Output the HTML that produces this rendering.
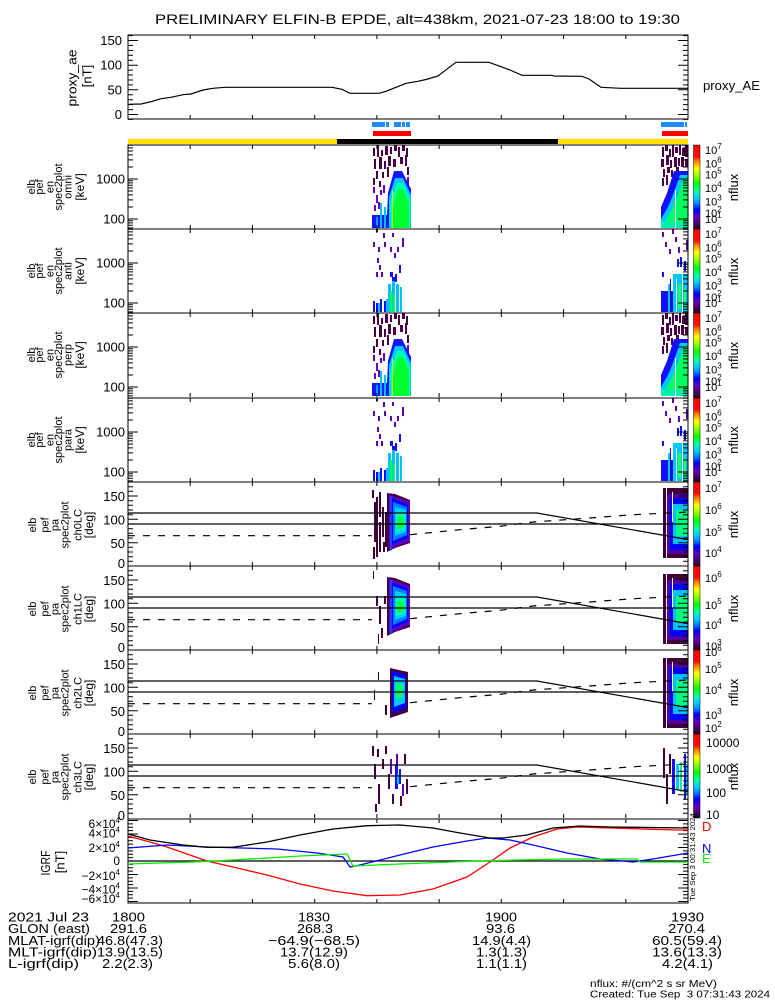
<!DOCTYPE html>
<html><head><meta charset="utf-8"><style>html,body{margin:0;padding:0;background:#fff}svg{display:block}</style></head>
<body>
<svg xmlns="http://www.w3.org/2000/svg" width="775" height="1000" viewBox="0 0 775 1000" font-family="'Liberation Sans', sans-serif">
<defs>
<linearGradient id="cb" x1="0" y1="0" x2="0" y2="1">
<stop offset="0" stop-color="#ff0000"/>
<stop offset="0.14" stop-color="#ff1000"/>
<stop offset="0.2" stop-color="#ff8c00"/>
<stop offset="0.28" stop-color="#ffff00"/>
<stop offset="0.37" stop-color="#90ff00"/>
<stop offset="0.46" stop-color="#00ff00"/>
<stop offset="0.55" stop-color="#00ffa0"/>
<stop offset="0.63" stop-color="#00d0ff"/>
<stop offset="0.7" stop-color="#0080ff"/>
<stop offset="0.77" stop-color="#0000ff"/>
<stop offset="0.86" stop-color="#6000c0"/>
<stop offset="0.93" stop-color="#500070"/>
<stop offset="1" stop-color="#1a0018"/>
</linearGradient>

<!-- energy event 1 dense -->
<g id="eA1">
<g fill="#4a0046">
<rect x="373" y="3" width="2" height="8"/><rect x="377" y="0" width="2" height="12"/><rect x="381" y="5" width="2" height="6"/>
<rect x="385" y="1" width="3" height="9"/><rect x="390" y="2" width="2" height="7"/><rect x="394" y="0" width="3" height="6"/>
<rect x="398" y="2" width="2" height="10"/><rect x="402" y="0" width="3" height="6"/><rect x="406" y="3" width="2" height="9"/>
<rect x="374" y="14" width="2" height="10"/><rect x="379" y="12" width="3" height="12"/><rect x="384" y="16" width="2" height="8"/>
<rect x="388" y="11" width="3" height="10"/><rect x="393" y="14" width="3" height="8"/><rect x="400" y="12" width="3" height="7"/>
<rect x="405" y="10" width="2" height="11"/><rect x="376" y="26" width="2" height="8"/><rect x="382" y="27" width="2" height="6"/>
<rect x="387" y="22" width="2" height="10"/><rect x="407" y="22" width="2" height="8"/><rect x="373" y="33" width="2" height="7"/>
<rect x="379" y="36" width="2" height="6"/>
</g>
<g fill="#6a00b8">
<rect x="373" y="42" width="2" height="6"/><rect x="376" y="50" width="2" height="8"/><rect x="380" y="45" width="2" height="5"/>
<rect x="374" y="60" width="2" height="6"/><rect x="378" y="57" width="2" height="7"/><rect x="383" y="40" width="2" height="8"/>
<rect x="407" y="32" width="2" height="10"/>
</g>
<polygon fill="#1414ff" points="394,26 402,26 411,44 411,83 372,83 372,70 387,70 388,48"/>
<polygon fill="#00c8ff" points="395,33 403,33 411,50 411,83 389,83 389,52"/>
<polygon fill="#00ffb0" points="397,38 403,38 410,54 410,83 391,83 390,58"/>
<polygon fill="#00ff30" points="398,44 403,44 409,58 409,83 393,83 393,62"/>
<rect x="380" y="58" width="2" height="25" fill="#00c0ff"/><rect x="384" y="62" width="2" height="21" fill="#00c0ff"/>
<rect x="376" y="72" width="2" height="11" fill="#00a0ff"/>
<rect x="392" y="45" width="1" height="38" fill="#c0ff00"/>
</g>

<!-- energy event 1 sparse -->
<g id="eB1">
<g fill="#6000b0">
<rect x="376" y="0" width="2" height="3"/><rect x="383" y="4" width="2" height="5"/><rect x="392" y="4" width="2" height="4"/>
<rect x="402" y="9" width="2" height="9"/><rect x="373" y="13" width="2" height="5"/><rect x="378" y="18" width="2" height="5"/>
<rect x="384" y="13" width="2" height="5"/><rect x="390" y="18" width="2" height="5"/><rect x="397" y="18" width="2" height="5"/>
<rect x="394" y="24" width="2" height="5"/><rect x="377" y="29" width="2" height="5"/><rect x="379" y="36" width="2" height="5"/>
<rect x="376" y="43" width="2" height="5"/><rect x="381" y="43" width="2" height="5"/>
</g>
<g fill="#1010ff">
<rect x="399" y="36" width="2" height="8"/><rect x="390" y="43" width="3" height="5"/><rect x="392" y="48" width="3" height="5"/>
<rect x="395" y="45" width="2" height="8"/><rect x="380" y="70" width="2" height="13"/><rect x="373" y="72" width="2" height="11"/>
<rect x="376" y="74" width="2" height="9"/><rect x="384" y="72" width="2" height="11"/>
</g>
<g fill="#00c0ff">
<rect x="388" y="55" width="3" height="28"/><rect x="392" y="52" width="3" height="31"/><rect x="396" y="55" width="3" height="28"/>
<rect x="400" y="58" width="2" height="25"/><rect x="386" y="70" width="2" height="13"/><rect x="378" y="74" width="2" height="9"/>
</g>
<rect x="390" y="62" width="2" height="21" fill="#00ff50"/><rect x="393" y="65" width="2" height="18" fill="#00ff50"/>
</g>

<!-- energy event 2 dense -->
<g id="eA2">
<g fill="#4a0046">
<rect x="662" y="2" width="2" height="10"/><rect x="665" y="0" width="3" height="6"/><rect x="669" y="4" width="2" height="8"/>
<rect x="672" y="0" width="2" height="12"/><rect x="675" y="2" width="3" height="6"/><rect x="679" y="0" width="2" height="10"/>
<rect x="682" y="3" width="3" height="8"/><rect x="685" y="0" width="3" height="12"/>
<rect x="661" y="14" width="3" height="8"/><rect x="666" y="10" width="3" height="10"/><rect x="670" y="15" width="2" height="8"/>
<rect x="674" y="12" width="3" height="10"/><rect x="678" y="13" width="2" height="8"/><rect x="681" y="12" width="3" height="10"/>
<rect x="685" y="14" width="3" height="8"/><rect x="663" y="24" width="2" height="8"/><rect x="667" y="22" width="3" height="6"/>
<rect x="671" y="25" width="2" height="7"/><rect x="676" y="22" width="3" height="6"/>
<rect x="662" y="33" width="2" height="8"/><rect x="666" y="30" width="2" height="10"/>
</g>
<polygon fill="#1010ff" points="674,26 688,26 688,33 672,62 664,78 661,78 661,62 667,48"/>
<polygon fill="#00c8ff" points="680,30 688,30 688,83 661,83 661,74 668,62 673,50"/>
<polygon fill="#00ff60" points="684,33 688,33 688,83 665,83 665,78 672,64 678,50"/>
<rect x="661" y="77" width="27" height="6" fill="#00f0b0"/>
<rect x="675" y="45" width="1" height="38" fill="#fff"/>
</g>

<!-- energy event 2 sparse -->
<g id="eB2">
<g fill="#6000b0">
<rect x="662" y="3" width="2" height="5"/><rect x="672" y="0" width="2" height="5"/><rect x="675" y="8" width="2" height="5"/>
<rect x="665" y="13" width="2" height="5"/><rect x="686" y="11" width="2" height="10"/><rect x="669" y="20" width="2" height="5"/>
<rect x="678" y="18" width="2" height="6"/>
</g>
<g fill="#1010ff">
<rect x="662" y="43" width="2" height="5"/><rect x="677" y="30" width="2" height="8"/><rect x="680" y="28" width="2" height="10"/>
<rect x="684" y="32" width="2" height="10"/><rect x="661" y="62" width="12" height="21"/>
</g>
<rect x="673" y="45" width="15" height="38" fill="#00c8ff"/>
<rect x="668" y="55" width="2" height="28" fill="#00c8ff"/>
<rect x="678" y="55" width="3" height="25" fill="#20ff60"/><rect x="684" y="60" width="2" height="20" fill="#20ff60"/>
<rect x="670" y="50" width="1" height="33" fill="#3000a0"/>
<rect x="676" y="50" width="1" height="33" fill="#fff"/><rect x="682" y="40" width="1" height="43" fill="#fff"/>
</g>

<!-- PA core event 1 -->
<g id="pcore">
<polygon fill="#45004a" points="387,11 395,12 410,18 410,61 395,66 387,70"/>
<polygon fill="#6000c0" points="389,13 410,20 410,59 389,67"/>
<polygon fill="#0000ff" points="391,16 408,22 408,56 391,63"/>
<polygon fill="#0080ff" points="393,20 407,25 407,53 393,59"/>
<polygon fill="#00d0ff" points="395,25 406,28 406,50 395,54"/>
<polygon fill="#00ffb0" points="396,30 405,32 405,47 396,50"/>
<polygon fill="#00ff40" points="397,35 404,36 404,45 397,47"/>
<rect x="390" y="14" width="2" height="54" fill="#2040ff"/>
</g>
<g id="pbars5" fill="#40003a">
<rect x="372" y="8" width="2" height="8"/><rect x="374" y="20" width="2" height="40"/><rect x="376" y="15" width="2" height="60"/>
<rect x="379" y="10" width="2" height="25"/><rect x="379" y="40" width="2" height="30"/><rect x="382" y="25" width="2" height="30"/>
<rect x="385" y="30" width="2" height="35"/><rect x="373" y="65" width="2" height="12"/><rect x="383" y="60" width="2" height="10"/>
</g>
<g id="pbars6" fill="#40003a">
<rect x="373" y="5" width="1" height="8"/><rect x="376" y="30" width="2" height="10"/><rect x="379" y="40" width="2" height="18"/>
<rect x="381" y="62" width="2" height="10"/><rect x="384" y="30" width="2" height="8"/><rect x="378" y="68" width="1" height="10"/>
</g>
<g id="pcore7">
<rect x="378" y="22" width="1" height="8" fill="#40003a"/><rect x="374" y="40" width="1" height="10" fill="#40003a"/><rect x="385" y="55" width="2" height="10" fill="#40003a"/>
<polygon fill="#45004a" points="390,18 408,22 408,62 390,68"/>
<polygon fill="#0000ff" points="392,21 406,25 406,58 392,63"/>
<polygon fill="#00c8ff" points="394,26 405,29 405,53 394,57"/>
<polygon fill="#00ff60" points="396,33 403,34 403,47 396,49"/>
</g>
<g id="p8a">
<g fill="#40003a">
<rect x="372" y="12" width="2" height="10"/><rect x="374" y="30" width="2" height="15"/><rect x="377" y="15" width="2" height="8"/>
<rect x="378" y="50" width="2" height="20"/><rect x="382" y="25" width="2" height="10"/><rect x="385" y="12" width="2" height="8"/>
<rect x="388" y="40" width="2" height="15"/><rect x="392" y="60" width="2" height="10"/><rect x="404" y="20" width="2" height="10"/>
<rect x="406" y="45" width="2" height="15"/><rect x="400" y="62" width="2" height="10"/><rect x="375" y="70" width="2" height="8"/>
</g>
<rect x="390" y="25" width="2" height="15" fill="#6000b0"/><rect x="396" y="20" width="2" height="10" fill="#6000b0"/><rect x="402" y="50" width="2" height="12" fill="#6000b0"/>
<rect x="395" y="30" width="3" height="25" fill="#1010ff"/><rect x="399" y="35" width="2" height="15" fill="#1010ff"/>
<rect x="397" y="40" width="2" height="10" fill="#00c8ff"/>
</g>
<!-- PA event 2 -->
<g id="pA2">
<rect x="663" y="6" width="25" height="70" fill="#40003a"/>
<rect x="667" y="12" width="21" height="60" fill="#5000a0"/>
<rect x="670" y="16" width="18" height="52" fill="#0000ff"/>
<rect x="673" y="22" width="15" height="40" fill="#00c0ff"/>
<rect x="676" y="28" width="12" height="26" fill="#00ff80"/>
<rect x="666" y="6" width="1" height="70" fill="#fff"/><rect x="672" y="10" width="1" height="30" fill="#fff"/>
</g>
<g id="pB2">
<rect x="663" y="14" width="2" height="30" fill="#40003a"/><rect x="666" y="40" width="2" height="30" fill="#40003a"/><rect x="669" y="20" width="2" height="20" fill="#40003a"/>
<rect x="672" y="25" width="3" height="35" fill="#1010ff"/><rect x="676" y="30" width="3" height="25" fill="#00c8ff"/>
<rect x="680" y="28" width="2" height="30" fill="#00ff80"/><rect x="684" y="20" width="2" height="45" fill="#1010ff"/>
<rect x="686" y="30" width="2" height="30" fill="#00c8ff"/>
</g>

<path id="et" fill="none" stroke="#000" stroke-width="1" d="M128 34h10M128 74h10M128 0.2h5M128 2.9h5M128 6h5M128 9.9h5M128 14.9h5M128 22h5M128 35.8h5M128 37.9h5M128 40.2h5M128 42.9h5M128 46h5M128 49.9h5M128 54.9h5M128 62h5M128 75.8h5M128 77.9h5M128 80.2h5M128 82.9h5M688 34h-10M688 74h-10M688 0.2h-5M688 2.9h-5M688 6h-5M688 9.9h-5M688 14.9h-5M688 22h-5M688 35.8h-5M688 37.9h-5M688 40.2h-5M688 42.9h-5M688 46h-5M688 49.9h-5M688 54.9h-5M688 62h-5M688 75.8h-5M688 77.9h-5M688 80.2h-5M688 82.9h-5"/>
<path id="pt" fill="none" stroke="#000" stroke-width="1" d="M128 14h10M128 37.3h10M128 60.7h10M128 4.7h5M128 9.3h5M128 18.7h5M128 23.3h5M128 28h5M128 32.7h5M128 42h5M128 46.7h5M128 51.3h5M128 56h5M128 65.3h5M128 70h5M128 74.7h5M128 79.3h5M688 14h-10M688 37.3h-10M688 60.7h-10M688 4.7h-5M688 9.3h-5M688 18.7h-5M688 23.3h-5M688 28h-5M688 32.7h-5M688 42h-5M688 46.7h-5M688 51.3h-5M688 56h-5M688 65.3h-5M688 70h-5M688 74.7h-5M688 79.3h-5"/>
<path id="tt" fill="none" stroke="#000" stroke-width="1" d="M190.2 0v4M252.4 0v4M314.7 0v4M376.9 0v4M439.1 0v4M501.3 0v4M563.6 0v4M625.8 0v4M190.2 84v-4M252.4 84v-4M314.7 84v-4M376.9 84v-4M439.1 84v-4M501.3 84v-4M563.6 84v-4M625.8 84v-4"/>
<g id="palines" fill="none" stroke="#000" stroke-width="1.2">
<path d="M128 31H537L688 57.6"/>
<path d="M128 42H688"/>
<path d="M128 53.7H372M410 52.7L460 47.7L500 44.3L533 40L580 36.7L633 32.7L688 30" stroke-dasharray="7 8"/>
</g>
</defs>

<rect width="775" height="1000" fill="#fff"/>

<!-- Title -->
<text x="155" y="24" font-size="14" textLength="525" lengthAdjust="spacingAndGlyphs">PRELIMINARY ELFIN-B EPDE, alt=438km, 2021-07-23 18:00 to 19:30</text>

<!-- Top panel proxy_ae -->
<rect x="128" y="35" width="560" height="84" fill="none" stroke="#000" stroke-width="1"/>
<path fill="none" stroke="#000" stroke-width="1" d="M128 114.5h10M128 89.8h10M128 65.2h10M128 40.5h10M128 119.4h5M128 109.6h5M128 104.6h5M128 99.7h5M128 94.8h5M128 84.9h5M128 80h5M128 75h5M128 70.1h5M128 60.2h5M128 55.3h5M128 50.4h5M128 45.4h5M128 35.6h5M688 114.5h-10M688 89.8h-10M688 65.2h-10M688 40.5h-10M688 119.4h-5M688 109.6h-5M688 104.6h-5M688 99.7h-5M688 94.8h-5M688 84.9h-5M688 80h-5M688 75h-5M688 70.1h-5M688 60.2h-5M688 55.3h-5M688 50.4h-5M688 45.4h-5M688 35.6h-5"/>
<use href="#tt" transform="translate(0,35)"/>
<polyline fill="none" stroke="#000" stroke-width="1.2" points="128,104.3 141,104 151,101.7 161,98.7 171,97.3 183,94.7 191,94 203,90 213,88.3 225,87.3 332,87.3 342,89.3 350,93.3 379,93.3 386,91.3 396,87.3 406,83.3 418,81.3 428,79 438,76 448,68.3 456,62.3 489,62.3 500,66.3 510,70 522,75.3 552,75.3 554,76 582,76.3 589,79 601,87.3 621,88.3 688,88.3"/>
<g font-size="13" text-anchor="end">
<text x="122" y="45">150</text><text x="122" y="69.7">100</text><text x="122" y="94.3">50</text><text x="122" y="119">0</text>
</g>
<text transform="translate(76.5,78) rotate(-90)" font-size="13" text-anchor="middle" textLength="57" lengthAdjust="spacingAndGlyphs">proxy_ae</text>
<text transform="translate(91.5,76) rotate(-90)" font-size="13" text-anchor="middle">[nT]</text>
<text x="703" y="90" font-size="13" textLength="57" lengthAdjust="spacingAndGlyphs">proxy_AE</text>

<!-- indicator bars -->
<g fill="#1e8cff">
<rect x="372" y="122" width="13" height="5"/><rect x="386" y="122" width="3" height="5"/><rect x="394" y="122" width="7" height="5"/>
<rect x="402" y="122" width="3" height="5"/><rect x="406" y="122" width="4" height="5"/>
<rect x="661" y="122" width="23" height="5"/><rect x="685" y="122" width="2" height="5"/>
</g>
<rect x="373" y="131" width="38" height="5" fill="#ff0000"/>
<rect x="662" y="131" width="26" height="5" fill="#ff0000"/>
<rect x="128" y="139" width="209" height="5" fill="#ffe000"/>
<rect x="337" y="139" width="221" height="5" fill="#000"/>
<rect x="558" y="139" width="130" height="5" fill="#ffe000"/>

<!-- data -->
<use href="#eA1" transform="translate(0,145)"/>
<use href="#eA2" transform="translate(0,145)"/>
<use href="#eB1" transform="translate(0,229)"/>
<use href="#eB2" transform="translate(0,229)"/>
<use href="#eA1" transform="translate(0,313)"/>
<use href="#eA2" transform="translate(0,313)"/>
<use href="#eB1" transform="translate(0,398)"/>
<use href="#eB2" transform="translate(0,398)"/>

<use href="#pbars5" transform="translate(0,482)"/>
<use href="#pcore" transform="translate(0,482)"/>
<use href="#pA2" transform="translate(0,482)"/>
<use href="#pbars6" transform="translate(0,566)"/>
<use href="#pcore" transform="translate(0,566)"/>
<use href="#pA2" transform="translate(0,568)"/>
<use href="#pcore7" transform="translate(0,650)"/>
<use href="#pA2" transform="translate(0,652)"/>
<use href="#p8a" transform="translate(0,734)"/>
<use href="#pB2" transform="translate(0,734)"/>

<!-- PA lines -->
<use href="#palines" transform="translate(0,482)"/>
<use href="#palines" transform="translate(0,566)"/>
<use href="#palines" transform="translate(0,650)"/>
<use href="#palines" transform="translate(0,734)"/>

<!-- frames -->
<g fill="none" stroke="#000" stroke-width="1">
<rect x="128" y="145" width="560" height="84"/>
<rect x="128" y="229" width="560" height="84"/>
<rect x="128" y="313" width="560" height="85"/>
<rect x="128" y="398" width="560" height="84"/>
<rect x="128" y="482" width="560" height="84"/>
<rect x="128" y="566" width="560" height="84"/>
<rect x="128" y="650" width="560" height="84"/>
<rect x="128" y="734" width="560" height="85"/>
<rect x="128" y="819" width="560" height="84"/>
</g>
<use href="#et" transform="translate(0,145)"/>
<use href="#et" transform="translate(0,229)"/>
<use href="#et" transform="translate(0,313)"/>
<use href="#et" transform="translate(0,398)"/>
<use href="#pt" transform="translate(0,482)"/>
<use href="#pt" transform="translate(0,566)"/>
<use href="#pt" transform="translate(0,650)"/>
<use href="#pt" transform="translate(0,734)"/>
<use href="#tt" transform="translate(0,145)"/>
<use href="#tt" transform="translate(0,229)"/>
<use href="#tt" transform="translate(0,313)"/>
<use href="#tt" transform="translate(0,398)"/>
<use href="#tt" transform="translate(0,482)"/>
<use href="#tt" transform="translate(0,566)"/>
<use href="#tt" transform="translate(0,650)"/>
<use href="#tt" transform="translate(0,734)"/>
<use href="#tt" transform="translate(0,819)"/>

<!-- y tick labels -->
<g font-size="13" text-anchor="end">
<text x="125" y="183.5">1000</text><text x="125" y="223.5">100</text>
<text x="125" y="267.5">1000</text><text x="125" y="307.5">100</text>
<text x="125" y="351.5">1000</text><text x="125" y="391.5">100</text>
<text x="125" y="436.5">1000</text><text x="125" y="476.5">100</text>
<text x="125" y="501">150</text><text x="125" y="524.5">100</text><text x="125" y="548">50</text><text x="125" y="568">0</text>
<text x="125" y="585">150</text><text x="125" y="608.5">100</text><text x="125" y="632">50</text><text x="125" y="652">0</text>
<text x="125" y="669">150</text><text x="125" y="692.5">100</text><text x="125" y="716">50</text><text x="125" y="736">0</text>
<text x="125" y="753">150</text><text x="125" y="776.5">100</text><text x="125" y="800">50</text><text x="125" y="820">0</text>
</g>

<!-- panel labels energy -->
<g font-size="11" text-anchor="middle">
<g transform="translate(0,187)">
<text transform="translate(35,0) rotate(-90)">elb</text><text transform="translate(43,0) rotate(-90)">pef</text>
<text transform="translate(53.3,0) rotate(-90)">en</text><text transform="translate(62,0) rotate(-90)">spec2plot</text>
<text transform="translate(71.7,0) rotate(-90)">omni</text><text transform="translate(84,0) rotate(-90)" font-size="12">[keV]</text>
</g>
<g transform="translate(0,271)">
<text transform="translate(35,0) rotate(-90)">elb</text><text transform="translate(43,0) rotate(-90)">pef</text>
<text transform="translate(53.3,0) rotate(-90)">en</text><text transform="translate(62,0) rotate(-90)">spec2plot</text>
<text transform="translate(71.7,0) rotate(-90)">anti</text><text transform="translate(84,0) rotate(-90)" font-size="12">[keV]</text>
</g>
<g transform="translate(0,355)">
<text transform="translate(35,0) rotate(-90)">elb</text><text transform="translate(43,0) rotate(-90)">pef</text>
<text transform="translate(53.3,0) rotate(-90)">en</text><text transform="translate(62,0) rotate(-90)">spec2plot</text>
<text transform="translate(71.7,0) rotate(-90)">perp</text><text transform="translate(84,0) rotate(-90)" font-size="12">[keV]</text>
</g>
<g transform="translate(0,440)">
<text transform="translate(35,0) rotate(-90)">elb</text><text transform="translate(43,0) rotate(-90)">pef</text>
<text transform="translate(53.3,0) rotate(-90)">en</text><text transform="translate(62,0) rotate(-90)">spec2plot</text>
<text transform="translate(71.7,0) rotate(-90)">para</text><text transform="translate(84,0) rotate(-90)" font-size="12">[keV]</text>
</g>
<!-- PA -->
<g transform="translate(0,525)">
<text transform="translate(36,0) rotate(-90)">elb</text><text transform="translate(48.4,0) rotate(-90)">pef</text>
<text transform="translate(58.4,0) rotate(-90)">pa</text><text transform="translate(68.4,0) rotate(-90)">spec2plot</text>
<text transform="translate(81.7,0) rotate(-90)">ch0LC</text><text transform="translate(93,0) rotate(-90)" font-size="12">[deg]</text>
</g>
<g transform="translate(0,609)">
<text transform="translate(36,0) rotate(-90)">elb</text><text transform="translate(48.4,0) rotate(-90)">pef</text>
<text transform="translate(58.4,0) rotate(-90)">pa</text><text transform="translate(68.4,0) rotate(-90)">spec2plot</text>
<text transform="translate(81.7,0) rotate(-90)">ch1LC</text><text transform="translate(93,0) rotate(-90)" font-size="12">[deg]</text>
</g>
<g transform="translate(0,693)">
<text transform="translate(36,0) rotate(-90)">elb</text><text transform="translate(48.4,0) rotate(-90)">pef</text>
<text transform="translate(58.4,0) rotate(-90)">pa</text><text transform="translate(68.4,0) rotate(-90)">spec2plot</text>
<text transform="translate(81.7,0) rotate(-90)">ch2LC</text><text transform="translate(93,0) rotate(-90)" font-size="12">[deg]</text>
</g>
<g transform="translate(0,777)">
<text transform="translate(36,0) rotate(-90)">elb</text><text transform="translate(48.4,0) rotate(-90)">pef</text>
<text transform="translate(58.4,0) rotate(-90)">pa</text><text transform="translate(68.4,0) rotate(-90)">spec2plot</text>
<text transform="translate(81.7,0) rotate(-90)">ch3LC</text><text transform="translate(93,0) rotate(-90)" font-size="12">[deg]</text>
</g>
</g>

<!-- colorbars -->
<g stroke="#000" stroke-width="0.5">
<rect x="693.5" y="145" width="6.5" height="84" fill="url(#cb)"/>
<rect x="693.5" y="229" width="6.5" height="84" fill="url(#cb)"/>
<rect x="693.5" y="313" width="6.5" height="85" fill="url(#cb)"/>
<rect x="693.5" y="398" width="6.5" height="84" fill="url(#cb)"/>
<rect x="693.5" y="482" width="6.5" height="84" fill="url(#cb)"/>
<rect x="693.5" y="566" width="6.5" height="84" fill="url(#cb)"/>
<rect x="693.5" y="650" width="6.5" height="84" fill="url(#cb)"/>
<rect x="693.5" y="734" width="6.5" height="84" fill="url(#cb)"/>
</g>
<g font-size="11">
<text x="705" y="154">10<tspan dy="-5" font-size="8">7</tspan></text>
<text x="705" y="167.5">10<tspan dy="-5" font-size="8">6</tspan></text>
<text x="705" y="178.5">10<tspan dy="-5" font-size="8">5</tspan></text>
<text x="705" y="192">10<tspan dy="-5" font-size="8">4</tspan></text>
<text x="705" y="205.5">10<tspan dy="-5" font-size="8">3</tspan></text>
<text x="705" y="217">10<tspan dy="-5" font-size="8">2</tspan></text>
<text x="705" y="223">10<tspan dy="-5" font-size="8">1</tspan></text>

<text x="705" y="238">10<tspan dy="-5" font-size="8">7</tspan></text>
<text x="705" y="251.5">10<tspan dy="-5" font-size="8">6</tspan></text>
<text x="705" y="262.5">10<tspan dy="-5" font-size="8">5</tspan></text>
<text x="705" y="276">10<tspan dy="-5" font-size="8">4</tspan></text>
<text x="705" y="289.5">10<tspan dy="-5" font-size="8">3</tspan></text>
<text x="705" y="301">10<tspan dy="-5" font-size="8">2</tspan></text>
<text x="705" y="307">10<tspan dy="-5" font-size="8">1</tspan></text>

<text x="705" y="322">10<tspan dy="-5" font-size="8">7</tspan></text>
<text x="705" y="335.5">10<tspan dy="-5" font-size="8">6</tspan></text>
<text x="705" y="346.5">10<tspan dy="-5" font-size="8">5</tspan></text>
<text x="705" y="360">10<tspan dy="-5" font-size="8">4</tspan></text>
<text x="705" y="373.5">10<tspan dy="-5" font-size="8">3</tspan></text>
<text x="705" y="385">10<tspan dy="-5" font-size="8">2</tspan></text>
<text x="705" y="391">10<tspan dy="-5" font-size="8">1</tspan></text>

<text x="705" y="407">10<tspan dy="-5" font-size="8">7</tspan></text>
<text x="705" y="420.5">10<tspan dy="-5" font-size="8">6</tspan></text>
<text x="705" y="431.5">10<tspan dy="-5" font-size="8">5</tspan></text>
<text x="705" y="445">10<tspan dy="-5" font-size="8">4</tspan></text>
<text x="705" y="458.5">10<tspan dy="-5" font-size="8">3</tspan></text>
<text x="705" y="470">10<tspan dy="-5" font-size="8">2</tspan></text>
<text x="705" y="476">10<tspan dy="-5" font-size="8">1</tspan></text>

<text x="705" y="492">10<tspan dy="-5" font-size="8">7</tspan></text>
<text x="705" y="514">10<tspan dy="-5" font-size="8">6</tspan></text>
<text x="705" y="536">10<tspan dy="-5" font-size="8">5</tspan></text>
<text x="705" y="557">10<tspan dy="-5" font-size="8">4</tspan></text>

<text x="705" y="582">10<tspan dy="-5" font-size="8">6</tspan></text>
<text x="705" y="609">10<tspan dy="-5" font-size="8">5</tspan></text>
<text x="705" y="629">10<tspan dy="-5" font-size="8">4</tspan></text>
<text x="705" y="650">10<tspan dy="-5" font-size="8">3</tspan></text>

<text x="705" y="656">10<tspan dy="-5" font-size="8">6</tspan></text>
<text x="705" y="673">10<tspan dy="-5" font-size="8">5</tspan></text>
<text x="705" y="694">10<tspan dy="-5" font-size="8">4</tspan></text>
<text x="705" y="719">10<tspan dy="-5" font-size="8">3</tspan></text>
<text x="705" y="732">10<tspan dy="-5" font-size="8">2</tspan></text>
</g>
<g font-size="12">
<text x="706" y="747">10000</text>
<text x="706" y="773">1000</text>
<text x="706" y="797">100</text>
<text x="706" y="819">10</text>
</g>
<g font-size="13" text-anchor="middle">
<text transform="translate(738,187.5) rotate(-90)">nflux</text>
<text transform="translate(738,271.5) rotate(-90)">nflux</text>
<text transform="translate(738,355.5) rotate(-90)">nflux</text>
<text transform="translate(738,440) rotate(-90)">nflux</text>
<text transform="translate(738,524.5) rotate(-90)">nflux</text>
<text transform="translate(738,608.5) rotate(-90)">nflux</text>
<text transform="translate(738,692.5) rotate(-90)">nflux</text>
<text transform="translate(738,776.5) rotate(-90)">nflux</text>
</g>

<!-- IGRF panel -->
<path fill="none" stroke="#000" stroke-width="1" transform="translate(0,819)" d="M128 1.5h10M128 15h10M128 28.5h10M128 42h10M128 55.5h10M128 69h10M128 82.5h10M128 4.9h5M128 8.25h5M128 11.6h5M128 18.4h5M128 21.75h5M128 25.1h5M128 31.9h5M128 35.25h5M128 38.6h5M128 45.4h5M128 48.75h5M128 52.1h5M128 58.9h5M128 62.25h5M128 65.6h5M128 72.4h5M128 75.75h5M128 79.1h5M688 1.5h-10M688 15h-10M688 28.5h-10M688 42h-10M688 55.5h-10M688 69h-10M688 82.5h-10M688 4.9h-5M688 8.25h-5M688 11.6h-5M688 18.4h-5M688 21.75h-5M688 25.1h-5M688 31.9h-5M688 35.25h-5M688 38.6h-5M688 45.4h-5M688 48.75h-5M688 52.1h-5M688 58.9h-5M688 62.25h-5M688 65.6h-5M688 72.4h-5M688 75.75h-5M688 79.1h-5"/>
<line x1="128" y1="861" x2="688" y2="861" stroke="#000" stroke-width="1.2"/>
<polyline fill="none" stroke="#ff0000" stroke-width="1.3" points="128,836 150,842 167,847 207,861 233,867 267,875 300,884 333,891 367,895.7 400,895 433,889 467,877 490,862 510,848 533,837 557,829 577,827 610,828 677,830 688,830"/>
<polyline fill="none" stroke="#0000ff" stroke-width="1.3" points="128,848 167,845 207,847 277,849 317,853 343,857 350,867 360,865 400,855 433,847 467,841 487,838 510,840 533,845 567,853 600,859 633,862 653,859 688,853"/>
<polyline fill="none" stroke="#00ee00" stroke-width="1.3" points="128,864 200,861.7 233,860 267,858 300,856 347,854 353,866 400,864 450,862 490,860.7 563,859 637,859 640,862 688,862"/>
<polyline fill="none" stroke="#000" stroke-width="1.3" points="128,834 150,840 183,845 207,847.3 233,847.3 267,842 300,835 333,829 367,825.7 400,825 433,828 460,833 490,838 503,838 527,835 553,828 580,826 610,827 688,828"/>
<g font-size="12" text-anchor="end">
<text x="120" y="828">6×10<tspan dy="-5" font-size="8">4</tspan></text>
<text x="120" y="837.5">4×10<tspan dy="-5" font-size="8">4</tspan></text>
<text x="120" y="852">2×10<tspan dy="-5" font-size="8">4</tspan></text>
<text x="120" y="865">0</text>
<text x="120" y="880">−2×10<tspan dy="-5" font-size="8">4</tspan></text>
<text x="120" y="893.5">−4×10<tspan dy="-5" font-size="8">4</tspan></text>
<text x="120" y="903">−6×10<tspan dy="-5" font-size="8">4</tspan></text>
</g>
<text transform="translate(50,863) rotate(-90)" font-size="13" text-anchor="middle" textLength="25" lengthAdjust="spacingAndGlyphs">IGRF</text>
<text transform="translate(64.5,862) rotate(-90)" font-size="13" text-anchor="middle">[nT]</text>
<text transform="translate(695,857) rotate(-90)" font-size="7" text-anchor="middle" textLength="88" lengthAdjust="spacingAndGlyphs">Tue Sep  3 00:31:43 2024</text>
<g font-size="13">
<text x="702" y="831" fill="#ff0000">D</text>
<text x="702" y="853" fill="#0000ff">N</text>
<text x="702" y="863" fill="#00ee00">E</text>
</g>

<!-- bottom annotations -->
<g font-size="13" lengthAdjust="spacingAndGlyphs">
<text x="8" y="921.5" textLength="81" lengthAdjust="spacingAndGlyphs">2021 Jul 23</text>
<text x="8" y="933" textLength="82" lengthAdjust="spacingAndGlyphs">GLON (east)</text>
<text x="8" y="944.8" textLength="92" lengthAdjust="spacingAndGlyphs">MLAT-igrf(dip)</text>
<text x="8" y="956.5" textLength="89" lengthAdjust="spacingAndGlyphs">MLT-igrf(dip)</text>
<text x="8" y="968.2" textLength="71" lengthAdjust="spacingAndGlyphs">L-igrf(dip)</text>
</g>
<g font-size="13" text-anchor="middle">
<text x="128.5" y="921.5" textLength="33" lengthAdjust="spacingAndGlyphs">1800</text>
<text x="128.5" y="933" textLength="37" lengthAdjust="spacingAndGlyphs">291.6</text>
<text x="130" y="944.8" textLength="66" lengthAdjust="spacingAndGlyphs">46.8(47.3)</text>
<text x="130" y="956.5" textLength="66" lengthAdjust="spacingAndGlyphs">13.9(13.5)</text>
<text x="127.5" y="968.2" textLength="51" lengthAdjust="spacingAndGlyphs">2.2(2.3)</text>

<text x="314" y="921.5" textLength="32" lengthAdjust="spacingAndGlyphs">1830</text>
<text x="315" y="933" textLength="36" lengthAdjust="spacingAndGlyphs">268.3</text>
<text x="314" y="944.8" textLength="92" lengthAdjust="spacingAndGlyphs">−64.9(−68.5)</text>
<text x="314" y="956.5" textLength="68" lengthAdjust="spacingAndGlyphs">13.7(12.9)</text>
<text x="314" y="968.2" textLength="52" lengthAdjust="spacingAndGlyphs">5.6(8.0)</text>

<text x="501" y="921.5" textLength="32" lengthAdjust="spacingAndGlyphs">1900</text>
<text x="500.5" y="933" textLength="29" lengthAdjust="spacingAndGlyphs">93.6</text>
<text x="501.5" y="944.8" textLength="59" lengthAdjust="spacingAndGlyphs">14.9(4.4)</text>
<text x="501.5" y="956.5" textLength="51" lengthAdjust="spacingAndGlyphs">1.3(1.3)</text>
<text x="501.5" y="968.2" textLength="51" lengthAdjust="spacingAndGlyphs">1.1(1.1)</text>

<text x="687.5" y="921.5" textLength="33" lengthAdjust="spacingAndGlyphs">1930</text>
<text x="686.5" y="933" textLength="37" lengthAdjust="spacingAndGlyphs">270.4</text>
<text x="687" y="944.8" textLength="70" lengthAdjust="spacingAndGlyphs">60.5(59.4)</text>
<text x="687" y="956.5" textLength="70" lengthAdjust="spacingAndGlyphs">13.6(13.3)</text>
<text x="687.5" y="968.2" textLength="51" lengthAdjust="spacingAndGlyphs">4.2(4.1)</text>
</g>
<text x="590" y="987" font-size="10" textLength="127" lengthAdjust="spacingAndGlyphs">nflux: #/(cm^2 s sr MeV)</text>
<text x="590" y="997.5" font-size="10" textLength="180" lengthAdjust="spacingAndGlyphs" style="white-space:pre">Created: Tue Sep  3 07:31:43 2024</text>
</svg>
</body></html>
